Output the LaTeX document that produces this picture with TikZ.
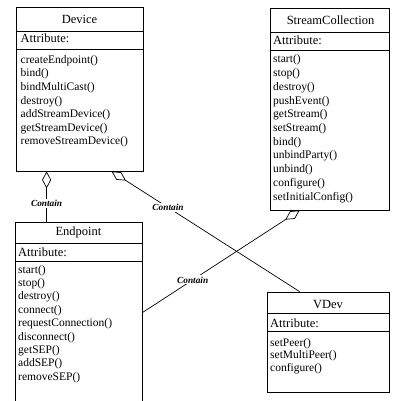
\documentclass[tikz,border=0pt]{standalone}
\usepackage{fontspec}
\setmainfont{Liberation Serif}
\usetikzlibrary{arrows.meta}
\begin{document}
\begin{tikzpicture}[x=1pt,y=-1pt,
  classbox/.style={draw, line width=0.8pt, inner sep=0pt},
  rule/.style={line width=0.7pt},
  title/.style={font=\fontsize{12.5}{14}\selectfont, inner sep=0pt, anchor=base},
  attr/.style={font=\fontsize{12.5}{14}\selectfont, inner sep=0pt, anchor=base west},
  meth/.style={font=\fontsize{11.5}{13.5}\selectfont, inner sep=0pt, anchor=base west},
  tag/.style={font=\fontsize{9.3}{11}\selectfont\bfseries\itshape, fill=white, inner sep=1.2pt},
  assoc/.style={line width=0.7pt, {Diamond[open,length=17pt,width=9pt]}-}
]
\useasboundingbox (0,0) rectangle (392,401);

% ---------- Device ----------
\node[classbox, minimum width=127pt, minimum height=164pt] (device) at (79.5,89) {};
\draw[rule] (16,31) -- (143,31);
\draw[rule] (16,49) -- (143,49);
\node[title] (devt) at (79.5,23.5) {Device};
\node[attr] (deva) at (20.5,43) {Attribute:};
\foreach \m [count=\i from 0] in {createEndpoint(),bind(),bindMultiCast(),destroy(),addStreamDevice(),getStreamDevice(),removeStreamDevice()}
  \node[meth] (devm\i) at (20.5,63.5+13.5*\i) {\m};

% ---------- StreamCollection ----------
\node[classbox, minimum width=119pt, minimum height=202pt] (stream) at (329.5,109) {};
\draw[rule] (270,32) -- (389,32);
\draw[rule] (270,50) -- (389,50);
\node[title] (strt) at (330.5,25) {StreamCollection};
\node[attr] (stra) at (273,45) {Attribute:};
\foreach \m [count=\i from 0] in {start(),stop(),destroy(),pushEvent(),getStream(),setStream(),bind(),unbindParty(),unbind(),configure(),setInitialConfig()}
  \node[meth] (strm\i) at (273,63+13.7*\i) {\m};

% ---------- Endpoint ----------
\node[classbox, minimum width=127pt, minimum height=190pt] (endpoint) at (78.5,317) {};
\draw[rule] (15,243) -- (142,243);
\draw[rule] (15,261) -- (142,261);
\node[title] (endt) at (78.5,235) {Endpoint};
\node[attr] (enda) at (18,256) {Attribute:};
\foreach \m [count=\i from 0] in {start(),stop(),destroy(),connect(),requestConnection(),disconnect(),getSEP(),addSEP(),removeSEP()}
  \node[meth] (endm\i) at (18,273+13.4*\i) {\m};

% ---------- VDev ----------
\node[classbox, minimum width=122pt, minimum height=100pt] (vdev) at (328,342) {};
\draw[rule] (267,313) -- (389,313);
\draw[rule] (267,331) -- (389,331);
\node[title] (vdt) at (328,308) {VDev};
\node[attr] (vda) at (270,327) {Attribute:};
\foreach \m [count=\i from 0] in {setPeer(),setMultiPeer(),configure()}
  \node[meth] (vdm\i) at (270,346+12.5*\i) {\m};

% ---------- aggregations ----------
\draw[assoc] ([xshift=31pt]device.south west) -- ([xshift=32pt]endpoint.north west)
  node[tag, pos=0.63] (c1) {Contain};
\draw[assoc] ([xshift=96pt]device.south west) -- ([xshift=33pt]vdev.north west)
  node[tag, pos=0.30] (c2) {Contain};
\draw[assoc] ([xshift=30pt]stream.south west) -- ([yshift=-91pt]endpoint.north east)
  node[tag, pos=0.68] (c3) {Contain};
\end{tikzpicture}
\end{document}
